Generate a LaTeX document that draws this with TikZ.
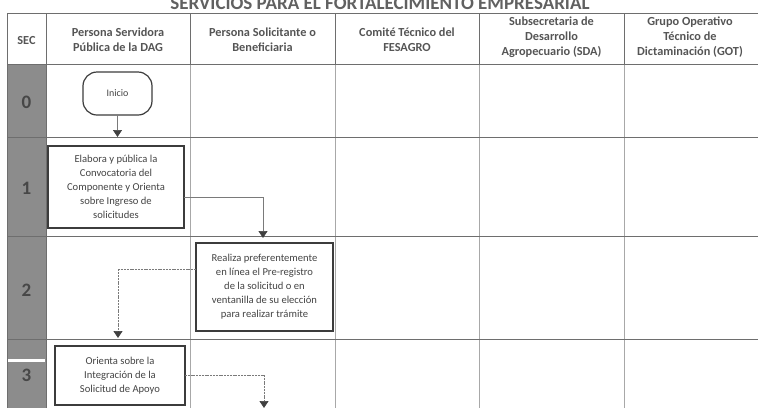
\documentclass[tikz,border=0pt]{standalone}
\usepackage{fontspec}
\setmainfont{Carlito}
\usetikzlibrary{arrows.meta}
\definecolor{gridc}{HTML}{A8A8A8}
\definecolor{gridd}{HTML}{6E6E6E}
\definecolor{hdrtxt}{HTML}{555555}
\definecolor{boxc}{HTML}{3C3C3C}
\definecolor{secfill}{HTML}{8C8C8C}
\definecolor{txtc}{HTML}{444444}
\definecolor{connc}{HTML}{7A7A7A}
\begin{document}
\begin{tikzpicture}[x=1pt,y=-1pt,
  hdr/.style={font=\fontsize{12.3}{15}\selectfont\bfseries, text=hdrtxt, align=center},
  secnum/.style={font=\fontsize{19}{19}\selectfont\bfseries, text=black!72},
  procbox/.style={draw=boxc, line width=1.5pt, fill=white, align=center, text=txtc,
     font=\fontsize{10.6}{14}\selectfont, inner sep=2pt, outer sep=0pt},
  startbox/.style={draw=boxc, line width=1.2pt, rounded corners=14pt, fill=white, text=txtc,
     font=\fontsize{10}{11}\selectfont, minimum width=69pt, minimum height=43pt, outer sep=0pt},
  conn/.style={draw=connc, line width=0.7pt, -{Triangle[width=9pt,length=7pt,fill=black!75,color=black!75]}},
  conndot/.style={conn, dash pattern=on 2pt off 0.8pt}
]
\useasboundingbox (0,0) rectangle (758,408);
\clip (0,0) rectangle (758,408);
\fill[white] (0,0) rectangle (758,408);

% title (partly cut by the top edge, as in the reference)
\node[anchor=base, font=\fontsize{19}{19}\selectfont\bfseries, text=black!62] (title) at (380,9) {SERVICIOS PARA EL FORTALECIMIENTO EMPRESARIAL};

% grey section column
\fill[secfill] (7,64) rectangle (46,408);
\fill[white] (8,359) rectangle (45,361.5);

% body grid
\foreach \x in {190,335,479,624} \draw[gridc, line width=0.6pt] (\x,64) -- (\x,408);
\foreach \y in {137,236,339} \draw[gridd, line width=0.8pt] (7,\y) -- (758,\y);
\draw[gridd, line width=0.8pt] (7,64) -- (7,408);
\draw[gridd, line width=0.8pt] (46,64) -- (46,408);

% header grid
\draw[gridd, line width=0.9pt] (7,13) -- (758,13);
\draw[gridd, line width=1pt] (7,64) -- (758,64);
\foreach \x in {7,46,190,335,479,624} \draw[gridd, line width=0.8pt] (\x,13) -- (\x,64);

% header texts
\node[hdr] (h0) at (26.5,41) {SEC};
\node[hdr] (h1) at (118,40) {Persona Servidora\\Pública de la DAG};
\node[hdr] (h2) at (262.5,40) {Persona Solicitante o\\Beneficiaria};
\node[hdr] (h3) at (407,40) {Comité Técnico del\\FESAGRO};
\node[hdr] (h4) at (551.5,37) {Subsecretaria de\\Desarrollo\\Agropecuario (SDA)};
\node[hdr] (h5) at (690,37) {Grupo Operativo\\Técnico de\\Dictaminación (GOT)};

% section numbers
\node[secnum] (s0) at (26.5,102) {0};
\node[secnum] (s1) at (26.5,188) {1};
\node[secnum] (s2) at (26.5,290) {2};
\node[secnum] (s3) at (26.5,375) {3};

% flow nodes
\node[startbox] (ini) at (117.5,93.5) {Inicio};
\node[procbox, minimum width=136pt, minimum height=82pt] (elab) at (116,187)
  {Elabora y pública la\\Convocatoria del\\Componente y Orienta\\sobre Ingreso de\\solicitudes};
\node[procbox, line width=1.8pt, minimum width=137pt, minimum height=88pt] (real) at (264.5,287)
  {Realiza preferentemente\\en línea el Pre-registro\\de la solicitud o en\\ventanilla de su elección\\para realizar trámite};
\node[procbox, minimum width=130pt, minimum height=59pt] (ori) at (120,375.5)
  {Orienta sobre la\\Integración de la\\Solicitud de Apoyo};

% connectors
\coordinate (t0) at (117.5,137);
\coordinate (t1) at (263,238);
\coordinate (t2) at (118,338);
\coordinate (t3) at (264,408);
\draw[conn] (ini.south) -- (t0);
\draw[conn] ([yshift=-10pt]elab.east) -| (t1);
\draw[conndot] ([yshift=18pt]real.west) -| (t2);
\draw[conndot] (ori.east) -| (t3);
\end{tikzpicture}
\end{document}
